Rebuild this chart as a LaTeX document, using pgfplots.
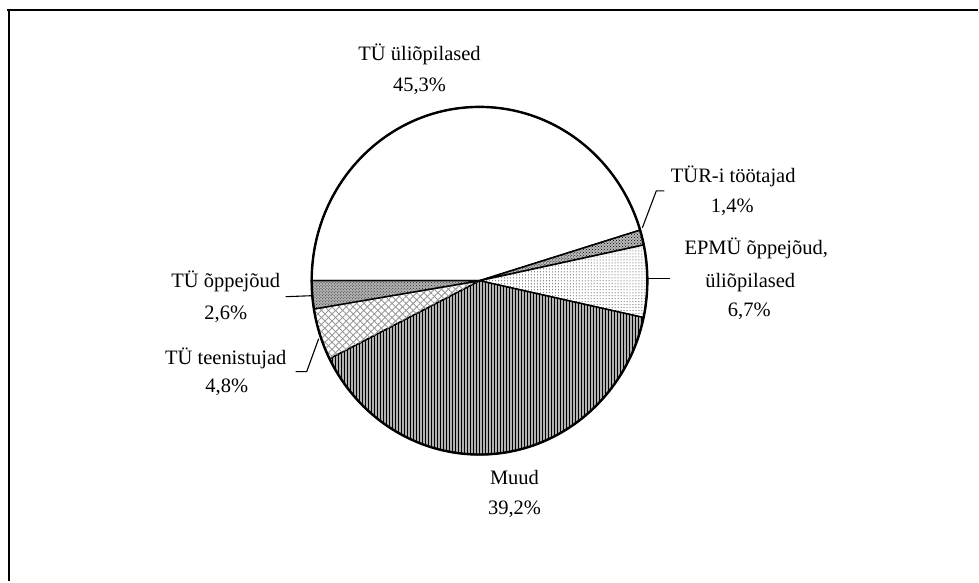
\documentclass[border=0pt]{standalone}
\usepackage{pgfplots}
\pgfplotsset{compat=1.18}
\usepackage{fontspec}
\setmainfont{Liberation Serif}
\usetikzlibrary{patterns,patterns.meta}
\begin{document}
\begin{tikzpicture}
% shares in percent, clockwise from 180 degrees
\def\pA{45.3}\def\pB{1.4}\def\pC{6.7}\def\pD{39.2}\def\pE{4.8}\def\pF{2.6}
\pgfmathsetmacro\aO{180}
\pgfmathsetmacro\aA{\aO-3.6*\pA}
\pgfmathsetmacro\aB{\aA-3.6*\pB}
\pgfmathsetmacro\aC{\aB-3.6*\pC}
\pgfmathsetmacro\aD{\aC-3.6*\pD}
\pgfmathsetmacro\aE{\aD-3.6*\pE}
\pgfmathsetmacro\aF{\aE-3.6*\pF}
\begin{axis}[hide axis, scale only axis, width=979bp, height=582bp,
  xmin=0, xmax=979, ymin=0, ymax=582, y dir=reverse, clip=false]
\path (axis cs:0,0) rectangle (axis cs:979,582);
% frame
\draw[line width=2bp] (axis cs:7,10) -- (axis cs:979,10);
\draw[line width=2bp] (axis cs:9,10) -- (axis cs:9,582);
% wedges
\filldraw[fill=white, line width=1.5bp]
  (axis cs:480,281) -- ++(\aO:168bp and 174bp) arc[start angle=\aO, end angle=\aA, x radius=168bp, y radius=174bp] -- cycle;
\filldraw[fill=gray!55, line width=1.5bp, postaction={pattern=crosshatch dots, pattern color=black}]
  (axis cs:480,281) -- ++(\aA:168bp and 174bp) arc[start angle=\aA, end angle=\aB, x radius=168bp, y radius=174bp] -- cycle;
\filldraw[fill=white, line width=1.5bp, postaction={pattern=dots, pattern color=black!85}]
  (axis cs:480,281) -- ++(\aB:168bp and 174bp) arc[start angle=\aB, end angle=\aC, x radius=168bp, y radius=174bp] -- cycle;
\filldraw[fill=gray!60, line width=1.5bp, postaction={pattern={Lines[angle=90,distance=3bp,line width=1.6bp]}, pattern color=black}]
  (axis cs:480,281) -- ++(\aC:168bp and 174bp) arc[start angle=\aC, end angle=\aD, x radius=168bp, y radius=174bp] -- cycle;
\filldraw[fill=white, line width=1.5bp,
  postaction={pattern={Lines[angle=45,distance=5bp,line width=0.9bp]}, pattern color=gray!80},
  postaction={pattern={Lines[angle=-45,distance=5bp,line width=0.9bp]}, pattern color=gray!80}]
  (axis cs:480,281) -- ++(\aD:168bp and 174bp) arc[start angle=\aD, end angle=\aE, x radius=168bp, y radius=174bp] -- cycle;
\filldraw[fill=gray!60, line width=1.5bp, postaction={pattern=crosshatch dots, pattern color=black!85}]
  (axis cs:480,281) -- ++(\aE:168bp and 174bp) arc[start angle=\aE, end angle=\aF, x radius=168bp, y radius=174bp] -- cycle;
\draw[line width=2.4bp] (axis cs:480,281) ellipse[x radius=168bp, y radius=174bp];
% leader lines
\draw[line width=1.1bp] (axis cs:643,228) -- (axis cs:657,191) -- (axis cs:665,191);
\draw[line width=1.1bp] (axis cs:648,279) -- (axis cs:671,279);
\draw[line width=1.1bp] (axis cs:286,297) -- (axis cs:312,296);
\draw[line width=1.1bp] (axis cs:296,372) -- (axis cs:307,372) -- (axis cs:319,339);
% labels
\tikzset{lab/.style={anchor=base, inner sep=0pt, font=\fontsize{20.5bp}{24bp}\selectfont}}
\node[lab] at (axis cs:420,61) {TÜ üliõpilased};
\node[lab] at (axis cs:420,92) {45,3\%};
\node[lab] at (axis cs:734,183) {TÜR-i töötajad};
\node[lab] at (axis cs:733,213) {1,4\%};
\node[lab] at (axis cs:757,255) {EPMÜ õppejõud,};
\node[lab] at (axis cs:751,288) {üliõpilased};
\node[lab] at (axis cs:750,317) {6,7\%};
\node[lab] at (axis cs:226,288) {TÜ õppejõud};
\node[lab] at (axis cs:226,320) {2,6\%};
\node[lab] at (axis cs:226,365) {TÜ teenistujad};
\node[lab] at (axis cs:227,393) {4,8\%};
\node[lab] at (axis cs:515,485) {Muud};
\node[lab] at (axis cs:515,515) {39,2\%};
\end{axis}
\end{tikzpicture}
\end{document}
